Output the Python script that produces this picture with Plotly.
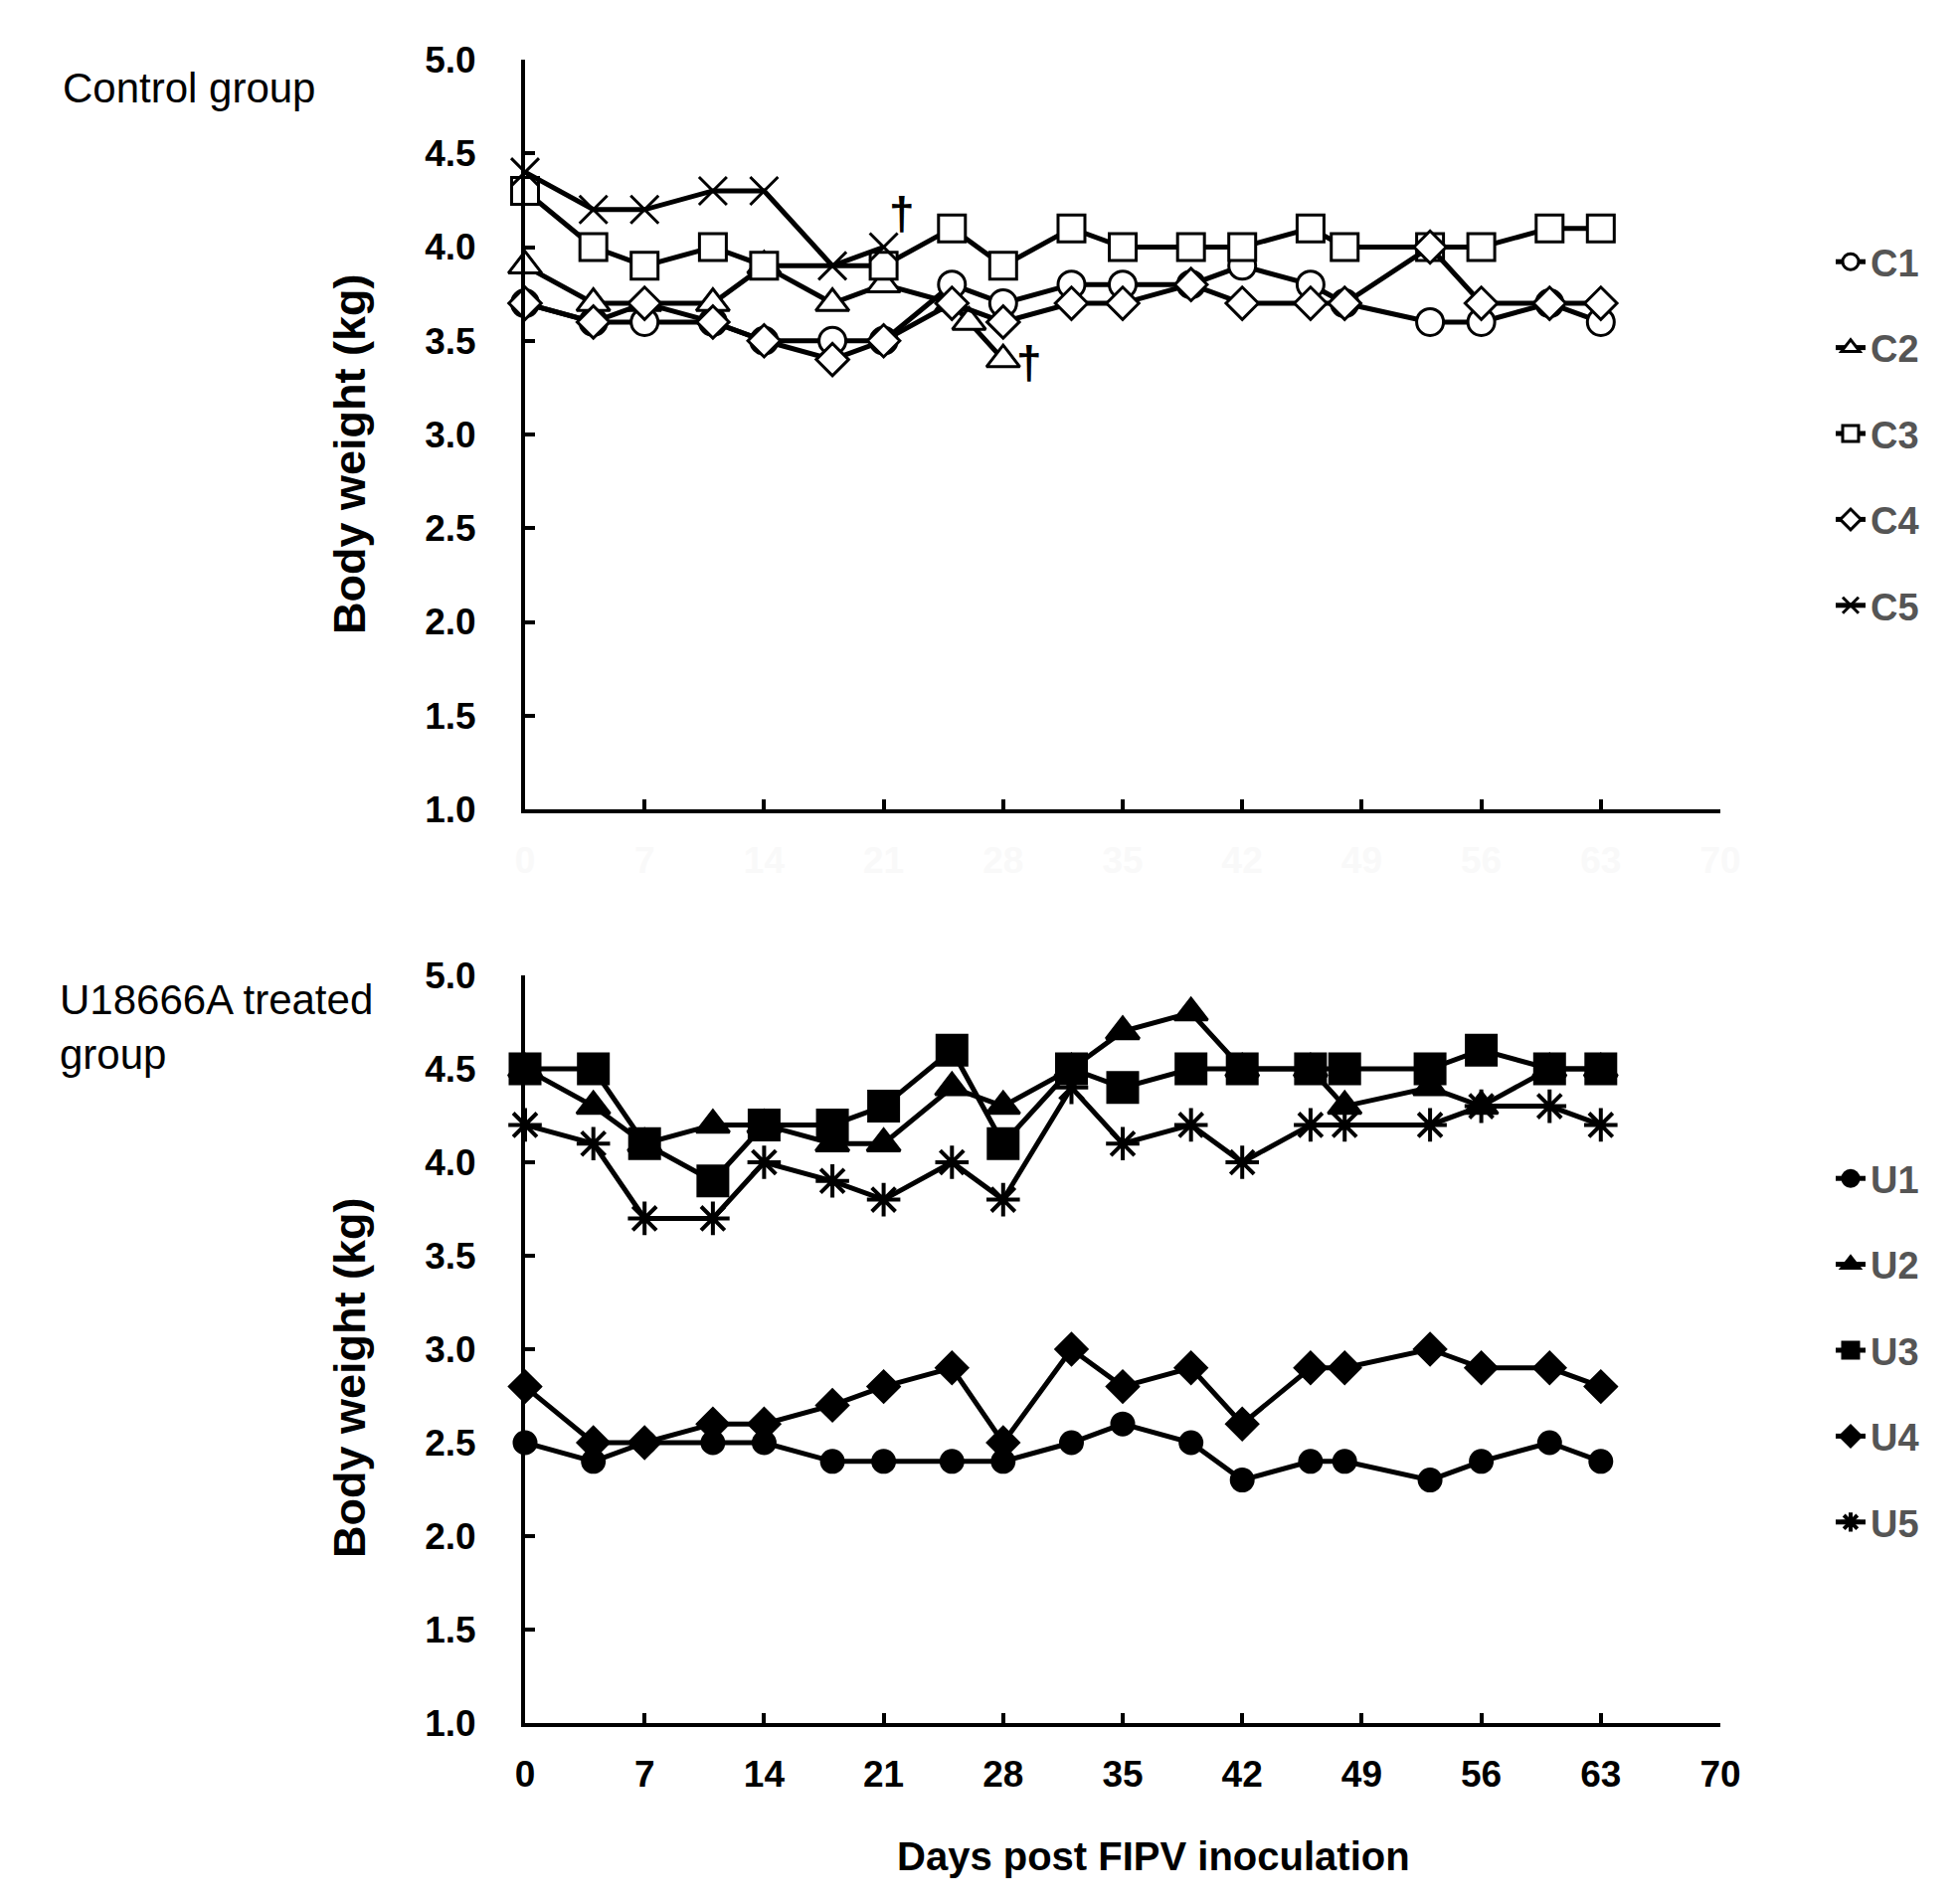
import plotly.graph_objects as go

# Days post inoculation (x values)
days = [0, 4, 7, 11, 14, 18, 21, 25, 28, 32, 35, 39, 42, 46, 48, 53, 56, 60, 63]
c2_days = [0, 4, 7, 11, 14, 18, 21, 25, 26, 28]
c5_days = [0, 4, 7, 11, 14, 18, 21]

# Control group body weights (kg)
c1 = [3.7, 3.6, 3.6, 3.6, 3.5, 3.5, 3.5, 3.8, 3.7, 3.8, 3.8, 3.8, 3.9, 3.8, 3.7, 3.6, 3.6, 3.7, 3.6]
c2 = [3.9, 3.7, 3.7, 3.7, 3.9, 3.7, 3.8, 3.7, 3.6, 3.4]
c3 = [4.3, 4.0, 3.9, 4.0, 3.9, None, 3.9, 4.1, 3.9, 4.1, 4.0, 4.0, 4.0, 4.1, 4.0, 4.0, 4.0, 4.1, 4.1]
c4 = [3.7, 3.6, 3.7, 3.6, 3.5, 3.4, 3.5, 3.7, 3.6, 3.7, 3.7, 3.8, 3.7, 3.7, 3.7, 4.0, 3.7, 3.7, 3.7]
c5 = [4.4, 4.2, 4.2, 4.3, 4.3, 3.9, 4.0]

# U18666A treated group body weights (kg)
u1 = [2.5, 2.4, 2.5, 2.5, 2.5, 2.4, 2.4, 2.4, 2.4, 2.5, 2.6, 2.5, 2.3, 2.4, 2.4, 2.3, 2.4, 2.5, 2.4]
u2 = [4.5, 4.3, 4.1, 4.2, 4.2, 4.1, 4.1, 4.4, 4.3, 4.5, 4.7, 4.8, 4.5, 4.5, 4.3, 4.4, 4.3, 4.5, 4.5]
u3 = [4.5, 4.5, 4.1, 3.9, 4.2, 4.2, 4.3, 4.6, 4.1, 4.5, 4.4, 4.5, 4.5, 4.5, 4.5, 4.5, 4.6, 4.5, 4.5]
u4 = [2.8, 2.5, 2.5, 2.6, 2.6, 2.7, 2.8, 2.9, 2.5, 3.0, 2.8, 2.9, 2.6, 2.9, 2.9, 3.0, 2.9, 2.9, 2.8]
u5 = [4.2, 4.1, 3.7, 3.7, 4.0, 3.9, 3.8, 4.0, 3.8, 4.4, 4.1, 4.2, 4.0, 4.2, 4.2, 4.2, 4.3, 4.3, 4.2]

# death marks (cross) next to C5 and C2
dagger_x = [22.1, 29.5]
dagger_y = [4.18, 3.38]

FONT = "Liberation Sans, Arial, sans-serif"

fig = go.Figure()


def add_series(x, y, name, symbol, size, fill, xa, ya, legend, mlw=3):
    fig.add_trace(go.Scatter(
        x=x, y=y, name=name, mode="lines+markers",
        xaxis=xa, yaxis=ya, legend=legend,
        connectgaps=True, cliponaxis=False,
        line=dict(color="black", width=5),
        marker=dict(symbol=symbol, size=size, color=fill,
                    line=dict(color="black", width=mlw)),
    ))


# Top panel - control group
add_series(days, c1, "C1", "circle", 27, "white", "x", "y", "legend")
add_series(c2_days, c2, "C2", "triangle-up", 29, "white", "x", "y", "legend")
add_series(days, c3, "C3", "square", 27, "white", "x", "y", "legend")
add_series(days, c4, "C4", "diamond", 25, "white", "x", "y", "legend")
add_series(c5_days, c5, "C5", "x-thin", 28, "black", "x", "y", "legend")

# Bottom panel - treated group
add_series(days, u1, "U1", "circle", 22, "black", "x2", "y2", "legend2")
add_series(days, u2, "U2", "triangle-up", 29, "black", "x2", "y2", "legend2")
add_series(days, u3, "U3", "square", 30, "black", "x2", "y2", "legend2")
add_series(days, u4, "U4", "diamond", 24, "black", "x2", "y2", "legend2")
add_series(days, u5, "U5", "asterisk", 28, "black", "x2", "y2", "legend2", mlw=4)

axis_common = dict(
    showline=True, linecolor="black", linewidth=4,
    ticks="inside", ticklen=10, tickwidth=4, tickcolor="black",
    showgrid=False, zeroline=False,
)
xaxis_common = dict(axis_common, range=[0, 70], tickvals=list(range(0, 71, 7)),
                    ticklabelstandoff=16)
yaxis_common = dict(axis_common, range=[1, 5], dtick=0.5, tickformat=".1f",
                    ticklabelstandoff=38,
                    tickfont=dict(family=FONT, size=37, color="black", weight="bold"))

# group labels, pixel positions of their left edge / middle
W, H = 1971, 1915
L, R, T, B = 520, 249, 52, 190
PW, PH = W - L - R, H - T - B

group_labels = ["Control group", "U18666A treated<br>group"]
group_px = [(53, 80), (50, 1025)]

anns = []
for text, (px, py) in zip(group_labels, group_px):
    anns.append(dict(
        text=text, xref="paper", yref="paper",
        x=(px - L) / PW, y=(H - B - py) / PH,
        xanchor="left", yanchor="middle", align="left", showarrow=False,
        font=dict(family=FONT, size=42, color="black"),
    ))
for ty in (449, 1378):
    anns.append(dict(
        text="Body weight (kg)", xref="paper", yref="paper",
        x=(343 - L) / PW, y=(H - B - ty) / PH, textangle=-90,
        xanchor="center", yanchor="middle", showarrow=False,
        font=dict(family=FONT, size=45, color="black", weight="bold"),
    ))
anns.append(dict(
    text="Days post FIPV inoculation", xref="paper", yref="paper",
    x=(1152 - L) / PW, y=(H - B - 1859) / PH,
    xanchor="center", yanchor="middle", showarrow=False,
    font=dict(family=FONT, size=40, color="black", weight="bold"),
))
for dx, dy in zip(dagger_x, dagger_y):
    anns.append(dict(
        text="†", x=dx, y=dy, xref="x", yref="y", showarrow=False,
        font=dict(family=FONT, size=46, color="black", weight="bold"),
    ))

top_dom = [(H - B - 806) / PH, 1.0]
bot_dom = [0.0, (H - B - 973) / PH]

legend_style = dict(
    x=(1833 - L) / PW, xanchor="left", yanchor="top",
    tracegroupgap=34, traceorder="grouped",
    font=dict(family=FONT, size=38, color="#555555", weight="bold"),
    bgcolor="rgba(0,0,0,0)",
)

fig.update_layout(
    width=W, height=H,
    margin=dict(l=L, r=R, t=T, b=B),
    paper_bgcolor="white", plot_bgcolor="white",
    font=dict(family=FONT, color="black"),
    xaxis=dict(xaxis_common, anchor="y",
               tickfont=dict(family=FONT, size=37, color="#f9f9f9", weight="bold")),
    yaxis=dict(yaxis_common, anchor="x", domain=top_dom),
    xaxis2=dict(xaxis_common, anchor="y2",
                tickfont=dict(family=FONT, size=37, color="black", weight="bold")),
    yaxis2=dict(yaxis_common, anchor="x2", domain=bot_dom),
    legend=dict(legend_style, y=(H - B - 224) / PH),
    legend2=dict(legend_style, y=(H - B - 1146) / PH),
    annotations=anns,
    showlegend=True,
)

# each trace in its own group so the gap spaces the legend rows
for i, tr in enumerate(fig.data):
    tr.legendgroup = "g%d" % i

fig.write_html("out.html")
